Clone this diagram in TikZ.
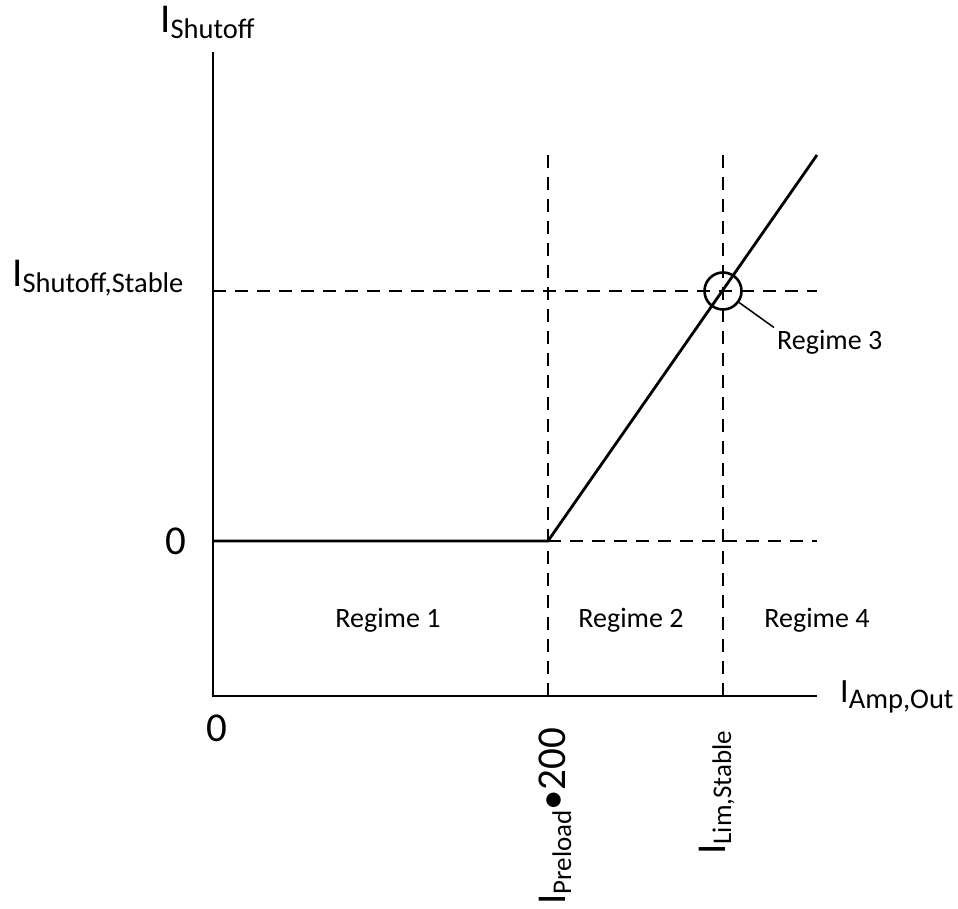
\documentclass[tikz,border=0pt]{standalone}
\usepackage{fontspec}
\setmainfont{Carlito}
\usetikzlibrary{positioning}
\tikzset{%
  axisLine/.style={%
    line width=2.6pt
  },
  guideLine/.style={%
    line width=1.7pt,
    dash pattern=on 13pt off 9pt
  },
  curveLine/.style={%
    line width=2.8pt
  },
  regimeText/.style={%
    font=\fontsize{28}{30}\selectfont,
    inner sep=0pt
  },
  bigText/.style={%
    font=\fontsize{41}{43}\selectfont,
    inner sep=0pt
  },
  axisLabel/.style={%
    inner sep=0pt
  }
}
% big I with a lowered subscript: [size of I]{size of subscript}{subscript}
\newcommand{\curLabel}[3][41]{{\fontsize{#1}{#1}\selectfont I}\raisebox{-6pt}{\fontsize{#2}{#2}\selectfont #3}}

\begin{document}
\begin{tikzpicture}[x=1pt,y=1pt]
            \useasboundingbox (0,0) rectangle (958,909);

            % axes
            \coordinate (origin) at (213,213);
            \coordinate (yTop) at (213,857);
            \coordinate (xEnd) at (817,213);
            \draw[axisLine] (yTop) -- (origin) -- (xEnd);

            % guide lines
            \coordinate (preBot) at (548,213);
            \coordinate (preTop) at (548,754);
            \coordinate (limBot) at (723,213);
            \coordinate (limTop) at (723,754);
            \coordinate (stabLeft) at (213,618);
            \coordinate (stabRight) at (817,618);
            \coordinate (zeroLeft) at (213,368);
            \coordinate (knee) at (548,368);
            \coordinate (zeroRight) at (817,368);
            \coordinate (lineEnd) at (817,754);
            \draw[guideLine] (preBot) -- (preTop);
            \draw[guideLine] (limBot) -- (limTop);
            \draw[guideLine] (stabLeft) -- (stabRight);
            \draw[guideLine] (knee) -- (zeroRight);

            % characteristic
            \draw[curveLine] (zeroLeft) -- (knee) -- (lineEnd);

            % stable point
            \node[circle, draw, line width=2.6pt, minimum size=37pt, inner sep=0pt] (stable) at (723,618) {};
            \node[regimeText, inner sep=3pt, anchor=base west] (regime3) at (774,559) {Regime 3};
            \draw[line width=1.5pt] (stable) -- (regime3.north west);

            % regimes
            \node[regimeText, anchor=base] (regime1) at (388,281) {Regime 1};
            \node[regimeText, anchor=base] (regime2) at (631,281) {Regime 2};
            \node[regimeText, anchor=base] (regime4) at (817,281) {Regime 4};

            % axis labels
            \node[axisLabel, anchor=base west] (yLabel) at (160,876) {\curLabel{28.5}{Shutoff}};
            \node[axisLabel, anchor=base west] (stabLabel) at (12,622) {\curLabel{28.5}{Shutoff,Stable}};
            \node[bigText, anchor=base east] (zeroY) at (186,354) {0};
            \node[bigText, anchor=base] (zeroX) at (217,167) {0};
            \node[axisLabel, anchor=base west] (xLabel) at (840,206) {\curLabel[34]{28.5}{Amp,Out}};
            \node[axisLabel, rotate=90, anchor=base west] (preLabel) at (565,4) {\curLabel{27}{Preload}{\fontsize{41}{41}\selectfont •200}};
            \node[axisLabel, rotate=90, anchor=base west] (limLabel) at (725,54) {\curLabel{27}{Lim,Stable}};
        \end{tikzpicture}
\end{document}
